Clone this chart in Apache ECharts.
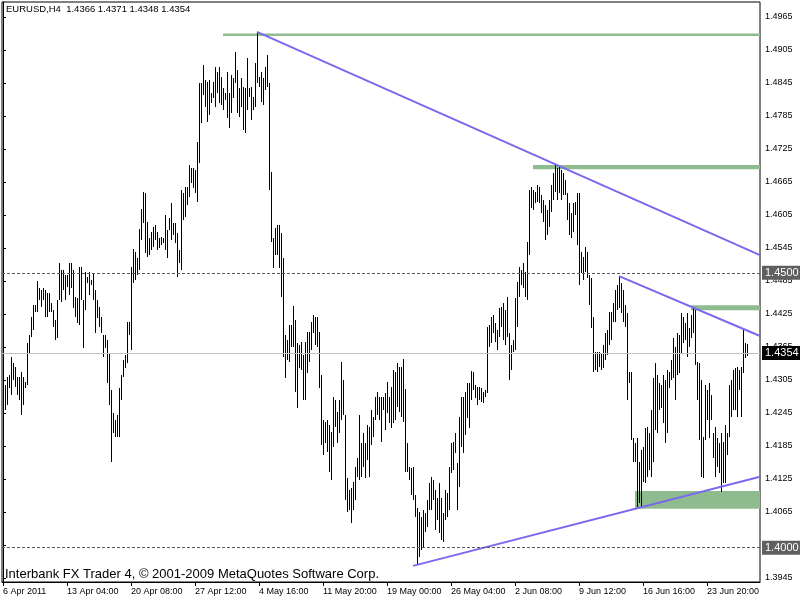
<!DOCTYPE html>
<html><head><meta charset="utf-8">
<script src="https://cdn.jsdelivr.net/npm/echarts@6/dist/echarts.min.js"></script>
<style>html,body{margin:0;padding:0;background:#fff}#c{width:800px;height:600px}</style>
</head><body><div id="c"></div>
<script>
// ---- text ----
const headerText = 'EURUSD,H4  1.4366 1.4371 1.4348 1.4354';
const footerText = 'Interbank FX Trader 4, \u00A9 2001-2009 MetaQuotes Software Corp.';
// ---- time axis ----
const timeLabels = ['6 Apr 2011','13 Apr 04:00','20 Apr 08:00','27 Apr 12:00','4 May 16:00','11 May 20:00','19 May 00:00','26 May 04:00','2 Jun 08:00','9 Jun 12:00','16 Jun 16:00','23 Jun 20:00'];
const barsPerLabel = 32;
const visibleSlots = 379;
// ---- price axis ----
const priceTicks = [1.3945,1.4005,1.4065,1.4125,1.4185,1.4245,1.4305,1.4365,1.4425,1.4485,1.4545,1.4605,1.4665,1.4725,1.4785,1.4845,1.4905,1.4965];
const priceMin = 1.39377, priceMax = 1.49923;
// ---- H4 bars (high / low) ----
const highs = [
1.4305,1.4296,1.4311,1.4314,1.4347,1.4336,1.4329,1.4311,1.4311,1.4320,
1.4311,1.4301,1.4372,1.4387,1.4420,1.4441,1.4441,1.4485,1.4472,1.4469,
1.4472,1.4469,1.4463,1.4463,1.4445,1.4432,1.4414,1.4451,1.4518,1.4505,
1.4505,1.4496,1.4496,1.4518,1.4518,1.4505,1.4456,1.4454,1.4511,1.4511,
1.4451,1.4501,1.4492,1.4501,1.4487,1.4500,1.4469,1.4451,1.4438,1.4420,
1.4387,1.4387,1.4378,1.4354,1.4287,1.4245,1.4232,1.4241,1.4291,1.4314,
1.4341,1.4351,1.4411,1.4411,1.4511,1.4543,1.4538,1.4527,1.4580,1.4616,
1.4647,1.4645,1.4592,1.4563,1.4574,1.4583,1.4587,1.4574,1.4563,1.4565,
1.4563,1.4605,1.4578,1.4600,1.4627,1.4591,1.4591,1.4572,1.4541,1.4651,
1.4645,1.4656,1.4656,1.4696,1.4691,1.4691,1.4687,1.4738,1.4845,1.4845,
1.4878,1.4851,1.4847,1.4851,1.4827,1.4847,1.4874,1.4865,1.4874,1.4856,
1.4836,1.4827,1.4865,1.4827,1.4860,1.4854,1.4901,1.4869,1.4836,1.4854,
1.4838,1.4836,1.4891,1.4836,1.4838,1.4820,1.4881,1.4938,1.4856,1.4865,
1.4854,1.4874,1.4896,1.4845,1.4683,1.4563,1.4581,1.4587,1.4587,1.4572,
1.4527,1.4387,1.4378,1.4405,1.4405,1.4440,1.4414,1.4372,1.4369,1.4374,
1.4351,1.4374,1.4392,1.4392,1.4411,1.4423,1.4420,1.4420,1.4392,1.4314,
1.4232,1.4229,1.4232,1.4223,1.4211,1.4274,1.4269,1.4247,1.4269,1.4338,
1.4305,1.4241,1.4127,1.4105,1.4109,1.4120,1.4147,1.4163,1.4241,1.4191,
1.4209,1.4191,1.4223,1.4220,1.4250,1.4238,1.4274,1.4283,1.4274,1.4274,
1.4274,1.4281,1.4301,1.4274,1.4292,1.4323,1.4320,1.4336,1.4329,1.4329,
1.4343,1.4289,1.4191,1.4147,1.4145,1.4147,1.4096,1.4072,1.4065,1.4056,
1.4069,1.4063,1.4087,1.4118,1.4129,1.4123,1.4105,1.4091,1.4118,1.4091,
1.4063,1.4105,1.4100,1.4147,1.4191,1.4192,1.4209,1.4154,1.4238,1.4274,
1.4274,1.4283,1.4300,1.4300,1.4321,1.4320,1.4296,1.4292,1.4292,1.4291,
1.4283,1.4287,1.4401,1.4405,1.4420,1.4423,1.4409,1.4396,1.4436,1.4438,
1.4445,1.4432,1.4456,1.4391,1.4369,1.4378,1.4454,1.4483,1.4511,1.4505,
1.4518,1.4501,1.4556,1.4651,1.4656,1.4651,1.4647,1.4660,1.4656,1.4641,
1.4632,1.4623,1.4614,1.4632,1.4660,1.4681,1.4696,1.4691,1.4692,1.4687,
1.4681,1.4669,1.4645,1.4627,1.4609,1.4627,1.4629,1.4645,1.4645,1.4538,
1.4529,1.4547,1.4538,1.4496,1.4491,1.4420,1.4356,1.4356,1.4356,1.4354,
1.4369,1.4391,1.4396,1.4429,1.4429,1.4445,1.4469,1.4478,1.4494,1.4481,
1.4469,1.4441,1.4427,1.4320,1.4320,1.4200,1.4191,1.4200,1.4156,1.4178,
1.4183,1.4218,1.4220,1.4209,1.4250,1.4309,1.4336,1.4314,1.4300,1.4296,
1.4314,1.4305,1.4323,1.4320,1.4341,1.4381,1.4365,1.4391,1.4387,1.4427,
1.4420,1.4409,1.4427,1.4400,1.4423,1.4436,1.4432,1.4338,1.4336,1.4305,
1.4201,1.4296,1.4287,1.4300,1.4278,1.4209,1.4220,1.4200,1.4191,1.4209,
1.4192,1.4223,1.4209,1.4296,1.4305,1.4323,1.4327,1.4329,1.4323,1.4329,
1.4400,1.4372,1.4371];
const lows = [
1.4214,1.4251,1.4260,1.4291,1.4278,1.4305,1.4292,1.4278,1.4269,1.4241,
1.4260,1.4291,1.4296,1.4354,1.4383,1.4396,1.4429,1.4429,1.4451,1.4438,
1.4451,1.4420,1.4420,1.4429,1.4429,1.4401,1.4378,1.4381,1.4451,1.4447,
1.4469,1.4451,1.4474,1.4460,1.4472,1.4436,1.4420,1.4409,1.4405,1.4451,
1.4363,1.4432,1.4481,1.4460,1.4478,1.4451,1.4391,1.4418,1.4401,1.4391,
1.4347,1.4363,1.4300,1.4260,1.4156,1.4209,1.4201,1.4201,1.4201,1.4269,
1.4311,1.4327,1.4336,1.4387,1.4360,1.4481,1.4487,1.4496,1.4505,1.4560,
1.4591,1.4536,1.4529,1.4532,1.4541,1.4547,1.4560,1.4541,1.4545,1.4551,
1.4554,1.4541,1.4527,1.4578,1.4560,1.4569,1.4554,1.4492,1.4518,1.4505,
1.4596,1.4601,1.4623,1.4638,1.4663,1.4654,1.4645,1.4629,1.4700,1.4772,
1.4823,1.4801,1.4774,1.4787,1.4809,1.4818,1.4801,1.4827,1.4809,1.4805,
1.4796,1.4814,1.4781,1.4763,1.4791,1.4818,1.4845,1.4791,1.4783,1.4801,
1.4760,1.4754,1.4796,1.4820,1.4778,1.4796,1.4801,1.4845,1.4838,1.4811,
1.4805,1.4832,1.4838,1.4651,1.4556,1.4509,1.4532,1.4532,1.4509,1.4456,
1.4347,1.4309,1.4341,1.4338,1.4365,1.4365,1.4283,1.4254,1.4327,1.4323,
1.4269,1.4269,1.4318,1.4338,1.4360,1.4391,1.4369,1.4365,1.4291,1.4187,
1.4169,1.4191,1.4174,1.4138,1.4123,1.4183,1.4220,1.4191,1.4209,1.4232,
1.4241,1.4087,1.4065,1.4069,1.4045,1.4069,1.4087,1.4129,1.4123,1.4129,
1.4147,1.4127,1.4160,1.4129,1.4187,1.4201,1.4232,1.4241,1.4232,1.4192,
1.4250,1.4214,1.4245,1.4227,1.4218,1.4227,1.4232,1.4256,1.4247,1.4238,
1.4229,1.4138,1.4138,1.4123,1.4096,1.4087,1.4056,1.3969,1.3983,1.3996,
1.4001,1.4029,1.4038,1.4069,1.4069,1.4087,1.4032,1.4051,1.4027,1.4014,
1.4011,1.4051,1.4056,1.4069,1.4136,1.4141,1.4172,1.4069,1.4111,1.4183,
1.4172,1.4205,1.4236,1.4218,1.4269,1.4287,1.4272,1.4260,1.4269,1.4265,
1.4263,1.4274,1.4281,1.4365,1.4372,1.4391,1.4374,1.4360,1.4383,1.4401,
1.4378,1.4369,1.4383,1.4305,1.4323,1.4356,1.4360,1.4401,1.4456,1.4478,
1.4472,1.4456,1.4451,1.4532,1.4618,1.4614,1.4627,1.4629,1.4627,1.4609,
1.4592,1.4560,1.4569,1.4583,1.4611,1.4632,1.4647,1.4632,1.4645,1.4632,
1.4641,1.4641,1.4596,1.4569,1.4563,1.4574,1.4605,1.4551,1.4478,1.4500,
1.4487,1.4501,1.4491,1.4441,1.4400,1.4320,1.4323,1.4320,1.4329,1.4323,
1.4327,1.4341,1.4351,1.4369,1.4378,1.4411,1.4411,1.4432,1.4436,1.4427,
1.4411,1.4401,1.4269,1.4300,1.4196,1.4156,1.4156,1.4074,1.4081,1.4074,
1.4120,1.4118,1.4129,1.4141,1.4129,1.4156,1.4214,1.4209,1.4250,1.4254,
1.4227,1.4191,1.4209,1.4291,1.4305,1.4309,1.4269,1.4314,1.4318,1.4354,
1.4372,1.4378,1.4347,1.4365,1.4381,1.4391,1.4332,1.4269,1.4196,1.4129,
1.4127,1.4196,1.4232,1.4200,1.4232,1.4163,1.4129,1.4147,1.4136,1.4101,
1.4118,1.4118,1.4169,1.4201,1.4238,1.4250,1.4250,1.4238,1.4287,1.4238,
1.4318,1.4345,1.4348];
// ---- rectangle objects (support / resistance zones) ----
const zoneStartBar = [110, 265, 344, 316];
const zoneTop = [1.4935, 1.4696, 1.4441, 1.4103];
const zoneBottom = [1.4931, 1.4688, 1.4432, 1.4071];
// ---- trend lines (anchor bar, anchor price, price at right edge) ----
const trendStartBar = [127, 308, 205];
const trendStartPrice = [1.4938, 1.4494, 1.3967];
const trendEdgePrice = [1.4532, 1.4385, 1.4129];
// ---- horizontal lines ----
const levelPrices = [1.4500, 1.4000, 1.4354];

const rightEdge = visibleSlots - 0.5;
const barData = highs.map((h, i) => [i, h, lows[i]]);
const zoneData = zoneStartBar.map((s, k) => [s, rightEdge, zoneTop[k], zoneBottom[k]]);

const chart = echarts.init(document.getElementById('c'), null, {renderer: 'canvas'});
const FONT = 'Liberation Sans';
const series = [
  {
    type: 'custom', z: 1, silent: true, clip: true,
    data: zoneData,
    renderItem: (params, api) => {
      const a = api.coord([api.value(0), api.value(2)]);
      const b = api.coord([api.value(1), api.value(3)]);
      return {type: 'rect', shape: {x: a[0], y: a[1], width: b[0] - a[0], height: Math.max(2.5, b[1] - a[1])}, style: {fill: '#8fbc8f'}};
    }
  },
  {
    type: 'line', z: 2, silent: true, data: [],
    markLine: {
      silent: true, symbol: ['none', 'none'], animation: false, precision: 4,
      data: levelPrices.map((p, k) => ({
        yAxis: p,
        lineStyle: k < 2 ? {color: '#5a5a5a', width: 1, type: [3, 2]} : {color: '#c0c0c0', width: 1, type: 'solid'},
        label: {
          show: true, position: 'end', distance: 2,
          formatter: () => p.toFixed(4),
          backgroundColor: k < 2 ? '#5f5f5f' : '#000000',
          color: '#ffffff', fontFamily: FONT, fontSize: 11, padding: [2, 2, 1, 3]
        }
      }))
    }
  },
  {
    type: 'custom', z: 3, silent: true, clip: true,
    data: barData,
    renderItem: (params, api) => {
      const t = api.coord([api.value(0), api.value(1)]);
      const b = api.coord([api.value(0), api.value(2)]);
      return {type: 'rect', shape: {x: Math.round(t[0]), y: Math.round(t[1]), width: 1, height: Math.max(1, Math.round(b[1]) - Math.round(t[1]))}, style: {fill: '#000000'}};
    }
  }
];
trendStartBar.forEach((s, k) => {
  series.push({
    type: 'line', z: 4, silent: true, symbol: 'none', clip: true,
    lineStyle: {color: '#7b68ee', width: 2},
    data: [[s, trendStartPrice[k]], [rightEdge, trendEdgePrice[k]]]
  });
});

chart.setOption({
  animation: false,
  backgroundColor: '#ffffff',
  textStyle: {fontFamily: FONT},
  title: [
    {text: headerText, left: 6, top: 4, padding: 0, textStyle: {fontFamily: FONT, fontSize: 9.5, fontWeight: 'normal', color: '#000'}},
    {text: footerText, left: 5, top: 568, padding: 0, textStyle: {fontFamily: FONT, fontSize: 13, fontWeight: 'normal', color: '#000'}}
  ],
  grid: {left: 2, top: 2, width: 758, height: 580, show: true, borderColor: '#000', borderWidth: 1, backgroundColor: 'transparent'},
  xAxis: {
    type: 'value', min: -0.5, max: rightEdge,
    axisLine: {show: true, onZero: false, lineStyle: {color: '#000'}},
    axisTick: {show: true, length: 4, lineStyle: {color: '#000'}, customValues: timeLabels.map((_, k) => k * barsPerLabel)},
    axisLabel: {
      show: true, customValues: timeLabels.map((_, k) => k * barsPerLabel), align: 'left', margin: 5,
      fontFamily: FONT, fontSize: 9, color: '#000',
      formatter: v => timeLabels[Math.round(v / barsPerLabel)] || ''
    },
    splitLine: {show: false}
  },
  yAxis: {
    type: 'value', position: 'right', min: priceMin, max: priceMax, scale: true,
    axisLine: {show: true, lineStyle: {color: '#000'}},
    axisTick: {show: true, length: 3, lineStyle: {color: '#000'}, customValues: priceTicks},
    axisLabel: {show: true, customValues: priceTicks, margin: 5, fontFamily: FONT, fontSize: 9, color: '#000', formatter: v => v.toFixed(4)},
    splitLine: {show: false}
  },
  series
});
</script></body></html>
